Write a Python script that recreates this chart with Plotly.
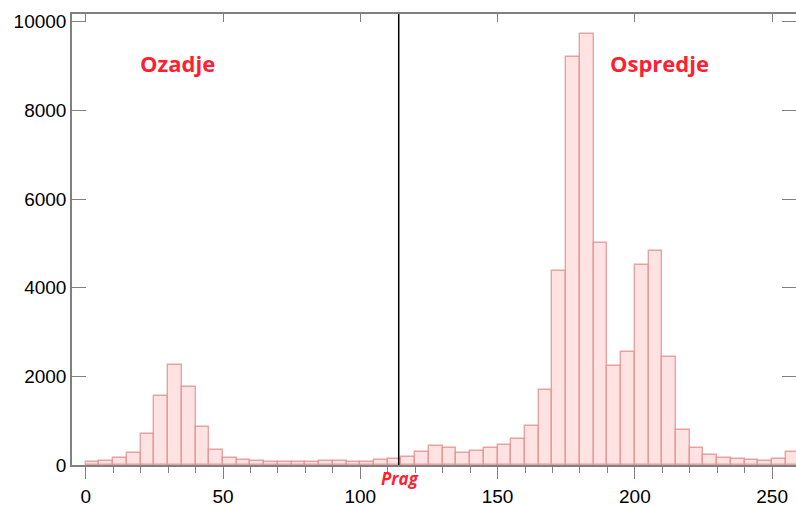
import plotly.graph_objects as go

bin_start = list(range(0, 260, 5))
counts = [60, 100, 150, 280, 700, 1565, 2250, 1770, 865, 340,
          165, 113, 100, 75, 68, 75, 60, 100, 83, 75,
          75, 105, 128, 188, 286, 436, 376, 263, 316, 376,
          459, 586, 880, 1692, 4383, 9211, 9723, 5015, 2233, 2556,
          4511, 4827, 2429, 790, 376, 226, 160, 130, 105, 100,
          128, 286]
bin_width = 5
threshold = 114
x_ticks = [0, 50, 100, 150, 200, 250]
y_ticks = [0, 2000, 4000, 6000, 8000, 10000]
y_tick_text = ["0", "2000", "4000", "6000", "8000", "10000"]
labels = {"bg": "Ozadje", "fg": "Ospredje", "thr": "Prag"}

centers = [b + bin_width / 2 for b in bin_start]
RED = "#ff1f33"
AX = "#808080"
XR = [-5, 258.7]
YR = [0, 10175]

fig = go.Figure()
fig.add_trace(go.Bar(
    x=centers, y=counts, width=[bin_width] * len(counts),
    marker=dict(color="rgb(255,226,226)",
                line=dict(color="rgba(225,135,135,0.75)", width=1.4)),
    showlegend=False, hoverinfo="skip",
))
fig.add_trace(go.Scatter(x=[None], y=[None], xaxis="x2", showlegend=False))

fig.add_shape(type="line", x0=threshold, x1=threshold, y0=0, y1=1,
              xref="x", yref="paper", line=dict(color="black", width=1.5))

fig.add_annotation(x=33.4, y=9060, text="<b>" + labels["bg"] + "</b>", showarrow=False,
                   font=dict(family="Open Sans", size=22, color=RED))
fig.add_annotation(x=208.8, y=9060, text="<b>" + labels["fg"] + "</b>", showarrow=False,
                   font=dict(family="Open Sans", size=22, color=RED))
fig.add_annotation(x=threshold + 0.5, xref="x", y=-0.03, yref="paper",
                   text="<b><i>" + labels["thr"] + "</i></b>",
                   showarrow=False, yanchor="middle",
                   font=dict(family="Open Sans", size=17, color=RED))

fig.update_layout(
    width=796, height=506,
    margin=dict(l=72, r=0, t=14, b=41, autoexpand=False),
    paper_bgcolor="white", plot_bgcolor="white",
    bargap=0,
    xaxis=dict(range=XR, showgrid=False, zeroline=False, automargin=False,
               tickvals=x_ticks, ticks="outside", ticklen=12, tickwidth=1.3,
               tickcolor=AX, showline=True, linecolor=AX, linewidth=1.5,
               ticklabelstandoff=1,
               minor=dict(dtick=10, tick0=0, ticks="outside", ticklen=6,
                          tickcolor=AX, tickwidth=1.3),
               tickfont=dict(family="Liberation Sans", size=19, color="black")),
    xaxis2=dict(range=XR, overlaying="x", side="top", showgrid=False,
                zeroline=False, tickvals=x_ticks, ticks="inside", ticklen=8,
                tickwidth=1.3, tickcolor=AX, showline=True, linecolor=AX,
                linewidth=1.5, showticklabels=False, automargin=False),
    yaxis=dict(range=YR, showgrid=False, zeroline=False, automargin=False,
               tickvals=y_ticks, ticktext=y_tick_text, ticks="inside",
               ticklen=14, tickwidth=1.3,
               tickcolor=AX, showline=True, linecolor=AX, linewidth=1.5,
               mirror="ticks",
               tickfont=dict(family="Liberation Sans", size=19, color="black")),
)

fig.write_html(
    "out.html",
    config={"displayModeBar": False},
    post_script="document.body.style.margin='0';document.body.style.overflow='hidden';",
)
